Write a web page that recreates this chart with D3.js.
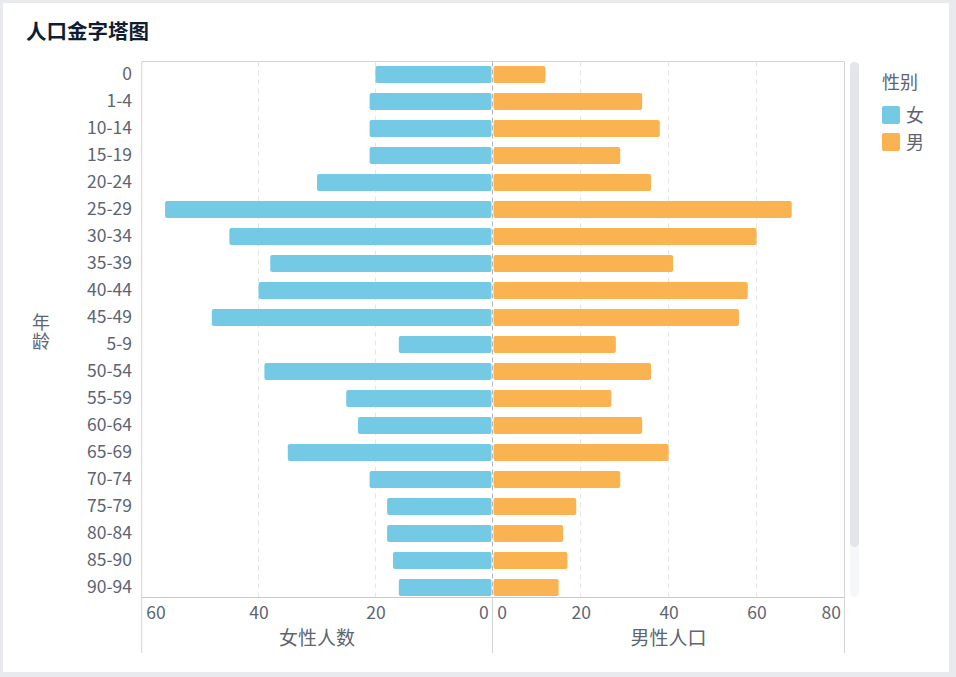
<!DOCTYPE html>
<html>
<head>
<meta charset="utf-8">
<script src="https://cdn.jsdelivr.net/npm/d3@7"></script>
<style>
html,body{margin:0;padding:0;background:#e9eaee;}
svg{display:block;}
text{font-family:"Noto Sans CJK SC","Noto Sans",sans-serif;}
</style>
</head>
<body>
<svg id="chart" width="956" height="677"></svg>
<script>
const ageGroups = ["0","1-4","10-14","15-19","20-24","25-29","30-34","35-39","40-44","45-49","5-9","50-54","55-59","60-64","65-69","70-74","75-79","80-84","85-90","90-94"];
const female = [20,21,21,21,30,56,45,38,40,48,16,39,25,23,35,21,18,18,17,16];
const male = [12,34,38,29,36,68,60,41,58,56,28,36,27,34,40,29,19,16,17,15];
const leftTicks = [0,20,40,60];
const rightTicks = [0,20,40,60,80];
const legendItems = ["女","男"];

const colors = {"女":"#74c9e5","男":"#f9b351"};
const labelColor = "#5d6472";
const fontFam = '"Noto Sans CJK SC","Noto Sans",sans-serif';

const svg = d3.select("#chart");
// card
svg.append("rect").attr("x",3).attr("y",3).attr("width",946).attr("height",669).attr("fill","#fff");

// title
svg.append("text").attr("x",26).attr("y",39).text("人口金字塔图")
  .attr("font-size",20.5).attr("font-weight","bold").attr("fill","#0f1d33");

const plotTop = 61.5, plotBottom = 597.5;
const xL = d3.scaleLinear().domain([0,60]).range([492.3,141.7]);
const xR = d3.scaleLinear().domain([0,80]).range([492.7,844.5]);
const y = d3.scaleBand().domain(ageGroups).range([61,601]).paddingInner(0.37).paddingOuter(0.185);

// frame lines
const frame = svg.append("g").attr("stroke","#d3d5da").attr("stroke-width",1);
frame.append("line").attr("x1",141.7).attr("x2",844.5).attr("y1",plotTop).attr("y2",plotTop);
frame.append("line").attr("x1",141.7).attr("x2",141.7).attr("y1",plotTop).attr("y2",653);
frame.append("line").attr("x1",844.5).attr("x2",844.5).attr("y1",plotTop).attr("y2",653);
frame.append("line").attr("x1",492.5).attr("x2",492.5).attr("y1",plotBottom).attr("y2",653);

// grid lines
const grid = svg.append("g").attr("stroke","#e3e4e8").attr("stroke-dasharray","5,4");
leftTicks.filter(t=>t>0&&t<60).forEach(t=>{
  grid.append("line").attr("x1",xL(t)).attr("x2",xL(t)).attr("y1",plotTop).attr("y2",plotBottom);
});
rightTicks.filter(t=>t>0&&t<80).forEach(t=>{
  grid.append("line").attr("x1",xR(t)).attr("x2",xR(t)).attr("y1",plotTop).attr("y2",plotBottom);
});

// bars
svg.append("g").selectAll("rect").data(ageGroups).join("rect")
  .attr("x",(d,i)=>xL(female[i]))
  .attr("width",(d,i)=>xL(0)-xL(female[i])-0.8)
  .attr("y",d=>y(d)).attr("height",y.bandwidth())
  .attr("rx",2).attr("fill",colors["女"]);
svg.append("g").selectAll("rect").data(ageGroups).join("rect")
  .attr("x",xR(0)+0.8)
  .attr("width",(d,i)=>xR(male[i])-xR(0)-0.8)
  .attr("y",d=>y(d)).attr("height",y.bandwidth())
  .attr("rx",2).attr("fill",colors["男"]);

// zero line
svg.append("line").attr("x1",492.5).attr("x2",492.5).attr("y1",plotTop).attr("y2",plotBottom)
  .attr("stroke","#b5b7bc").attr("stroke-dasharray","5,3");

// bottom axis line
svg.append("line").attr("x1",141.7).attr("x2",844.5).attr("y1",plotBottom).attr("y2",plotBottom)
  .attr("stroke","#c8cacf");

// x axes
function styleAxis(g){
  g.select(".domain").remove();
  g.selectAll(".tick line").remove();
  g.selectAll(".tick text").attr("fill",labelColor).attr("font-size",17.5)
    .attr("font-family",fontFam);
}
const gL = svg.append("g").attr("transform",`translate(0,${plotBottom})`)
  .call(d3.axisBottom(xL).tickValues(leftTicks).tickSize(0).tickPadding(9));
styleAxis(gL);
gL.selectAll(".tick text").attr("text-anchor",d=>d===0?"end":(d===60?"start":"middle"))
  .attr("dx",d=>d===0?-4:(d===60?4:0));
const gR = svg.append("g").attr("transform",`translate(0,${plotBottom})`)
  .call(d3.axisBottom(xR).tickValues(rightTicks).tickSize(0).tickPadding(9));
styleAxis(gR);
gR.selectAll(".tick text").attr("text-anchor",d=>d===0?"start":(d===80?"end":"middle"))
  .attr("dx",d=>d===0?4:(d===80?-4:0));

// axis titles
svg.append("text").attr("x",(xL(0)+xL(60))/2).attr("y",645).attr("text-anchor","middle")
  .attr("font-size",19).attr("fill",labelColor).text("女性人数");
svg.append("text").attr("x",(xR(0)+xR(80))/2).attr("y",645).attr("text-anchor","middle")
  .attr("font-size",19).attr("fill",labelColor).text("男性人口");

// y axis
const gY = svg.append("g").attr("transform","translate(132,0)")
  .call(d3.axisLeft(y).tickSize(0).tickPadding(0));
gY.select(".domain").remove();
gY.selectAll(".tick text").attr("fill",labelColor).attr("font-size",17.5)
  .attr("font-family",fontFam);

// y title (vertical, upright characters)
svg.append("text").attr("x",41).attr("y",332)
  .attr("writing-mode","vertical-rl").attr("text-orientation","upright")
  .attr("text-anchor","middle").attr("letter-spacing",1)
  .attr("font-size",18).attr("fill",labelColor).text("年龄");

// scrollbar
svg.append("rect").attr("x",850).attr("y",62).attr("width",9).attr("height",535).attr("rx",4.5).attr("fill","#f6f7f9");
svg.append("rect").attr("x",850).attr("y",62).attr("width",9).attr("height",485).attr("rx",4.5).attr("fill","#e3e5ea");

// legend
svg.append("text").attr("x",882).attr("y",89).attr("font-size",18).attr("fill",labelColor).text("性别");
const lg = svg.append("g").selectAll("g").data(legendItems).join("g")
  .attr("transform",(d,i)=>`translate(882,${106+i*27})`);
lg.append("rect").attr("width",18).attr("height",18).attr("rx",2).attr("fill",d=>colors[d]);
lg.append("text").attr("x",24).attr("y",15.5).attr("font-size",18).attr("fill",labelColor).text(d=>d);
</script>
</body>
</html>
